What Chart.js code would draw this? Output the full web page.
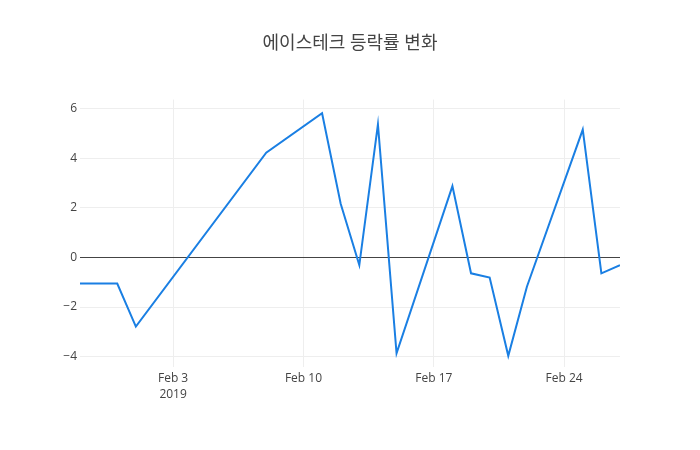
<!DOCTYPE html>
<html>
<head>
<meta charset="utf-8">
<script src="https://cdn.jsdelivr.net/npm/chart.js@4/dist/chart.umd.min.js"></script>
<style>
  html, body { margin: 0; padding: 0; background: #fff; }
  #wrap { width: 700px; height: 450px; }
</style>
</head>
<body>
<div id="wrap"><canvas id="chartRate"></canvas></div>
<script>
// 에이스테크 일별 등락률 (%)
const dates = ['2019-01-29', '2019-01-31', '2019-02-01', '2019-02-08', '2019-02-11', '2019-02-12',
  '2019-02-13', '2019-02-14', '2019-02-15', '2019-02-18', '2019-02-19', '2019-02-20',
  '2019-02-21', '2019-02-22', '2019-02-25', '2019-02-26', '2019-02-27'];
const rates = [-1.05, -1.05, -2.79, 4.23, 5.82, 2.17, -0.31, 5.37, -3.87, 2.88, -0.64, -0.81,
  -3.97, -1.18, 5.16, -0.64, -0.31];

const xTickDates = ['2019-02-03', '2019-02-10', '2019-02-17', '2019-02-24'];
const xTickLabels = [['Feb 3', '2019'], 'Feb 10', 'Feb 17', 'Feb 24'];
const yTicks = [-4, -2, 0, 2, 4, 6];

const day = s => Date.parse(s) / 864e5;
const fontFamily = "'Open Sans', 'Noto Sans CJK KR', sans-serif";

const ctx = document.getElementById('chartRate').getContext('2d');
new Chart(ctx, {
  type: 'line',
  data: {
    datasets: [{
      data: dates.map((d, i) => ({ x: day(d), y: rates[i] })),
      borderColor: '#1a7fe3',
      borderWidth: 2,
      pointRadius: 0,
      tension: 0,
      fill: false
    }]
  },
  options: {
    responsive: true,
    maintainAspectRatio: false,
    animation: false,
    layout: { padding: 0 },
    plugins: {
      legend: { display: false },
      tooltip: { enabled: false },
      title: {
        display: true,
        text: '에이스테크 등락률 변화',
        color: '#444',
        font: { family: fontFamily, size: 18, weight: 'normal', lineHeight: 1.2 },
        padding: { top: 33, bottom: 45 }
      }
    },
    scales: {
      x: {
        type: 'linear',
        min: day(dates[0]),
        max: day(dates[dates.length - 1]),
        afterBuildTicks: s => { s.ticks = xTickDates.map(d => ({ value: day(d) })); },
        afterFit: s => { s.height = 83; },
        border: { display: false },
        grid: { color: '#eee', lineWidth: 1, drawTicks: false },
        ticks: {
          color: '#444',
          padding: 3,
          maxRotation: 0,
          font: { family: fontFamily, size: 12, lineHeight: 1.35 },
          callback: (v, i) => xTickLabels[i]
        }
      },
      y: {
        min: -4.42,
        max: 6.37,
        afterBuildTicks: s => { s.ticks = yTicks.map(v => ({ value: v })); },
        afterFit: s => { s.width = 80; },
        border: { display: false },
        grid: {
          drawTicks: false,
          lineWidth: 1,
          color: c => (c.tick && c.tick.value === 0 ? '#444' : '#eee')
        },
        ticks: {
          color: '#444',
          padding: 3,
          font: { family: fontFamily, size: 12 },
          callback: v => (v < 0 ? '\u2212' + Math.abs(v) : String(v))
        }
      },
      // empty right-hand margin so the title stays centred on the page
      yRight: {
        position: 'right',
        afterFit: s => { s.width = 80; },
        border: { display: false },
        grid: { display: false, drawTicks: false },
        ticks: { display: false }
      }
    }
  }
});
</script>
</body>
</html>
